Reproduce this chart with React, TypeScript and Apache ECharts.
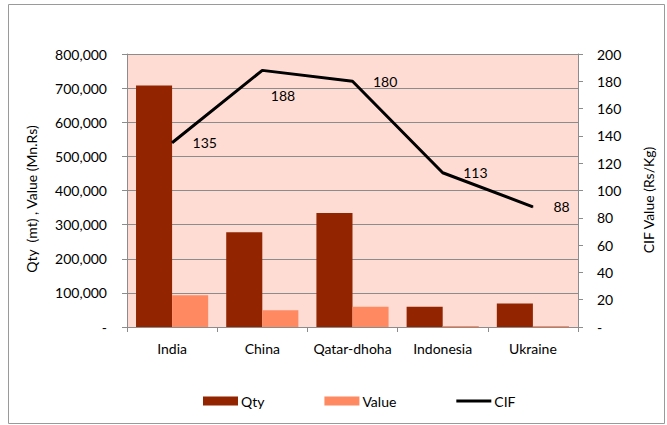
import React, { useEffect, useRef } from "react";
import * as echarts from "echarts";

const categories = ["India", "China", "Qatar-dhoha", "Indonesia", "Ukraine"];
const qty = [708000, 278000, 334000, 59000, 69000];
const value = [93000, 49000, 59000, 3000, 3000];
const cif = [135, 188, 180, 113, 88];
const leftTicks = { min: 0, max: 800000, interval: 100000 };
const rightTicks = { min: 0, max: 200, interval: 20 };

const FONT = "Lato";

export default function App() {
  const ref = useRef<HTMLDivElement>(null);
  useEffect(() => {
    if (!ref.current) return;
    const chart = echarts.init(ref.current, null, { renderer: "svg" });
    const fmt = (v: number) => (v === 0 ? "-" : v.toLocaleString("en-US"));
    chart.setOption({
      animation: false,
      backgroundColor: "#ffffff",
      textStyle: { fontFamily: FONT },
      grid: {
        left: 127,
        right: 89,
        top: 54,
        bottom: 98,
        show: true,
        backgroundColor: "#FFDCD3",
        borderWidth: 0,
      },
      legend: {
        left: 198,
        top: 389,
        itemWidth: 35,
        itemHeight: 9,
        itemGap: 60,
        textStyle: { fontFamily: FONT, fontSize: 14, color: "#000", padding: [0, 0, 0, -2] },
        data: [
          { name: "Qty", icon: "rect" },
          { name: "Value", icon: "rect" },
          { name: "CIF", icon: "path://M0,3H35V6H0Z" },
        ],
      },
      xAxis: {
        type: "category",
        data: categories,
        axisLine: { lineStyle: { color: "#8c8c8c", width: 1 } },
        axisTick: { show: true, length: 5, lineStyle: { color: "#8c8c8c" } },
        axisLabel: { fontFamily: FONT, fontSize: 14, color: "#000", margin: 14, interval: 0 },
      },
      yAxis: [
        {
          type: "value",
          ...leftTicks,
          axisLine: { show: true, lineStyle: { color: "#8c8c8c" } },
          axisTick: { show: true, length: 5, lineStyle: { color: "#8c8c8c" } },
          splitLine: { show: true, lineStyle: { color: "#8c8c8c", width: 1 } },
          axisLabel: { fontFamily: FONT, fontSize: 14, color: "#000", margin: 20, formatter: fmt },
        },
        {
          type: "value",
          ...rightTicks,
          position: "right",
          axisLine: { show: true, lineStyle: { color: "#8c8c8c" } },
          axisTick: { show: true, length: 5, lineStyle: { color: "#8c8c8c" } },
          splitLine: { show: false },
          axisLabel: { fontFamily: FONT, fontSize: 14, color: "#000", margin: 19, formatter: fmt },
        },
      ],
      series: [
        {
          name: "Qty",
          type: "bar",
          data: qty,
          barCategoryGap: "20%",
          barGap: "0%",
          itemStyle: { color: "#922400" },
        },
        {
          name: "Value",
          type: "bar",
          data: value,
          barCategoryGap: "20%",
          barGap: "0%",
          itemStyle: { color: "#FF8A62" },
        },
        {
          name: "CIF",
          type: "line",
          yAxisIndex: 1,
          data: cif.map((v, i) =>
            i === 1
              ? { value: v, label: { position: "right", distance: 0, offset: [8, 25] } }
              : v
          ),
          symbol: "circle",
          symbolSize: 1,
          showSymbol: true,
          lineStyle: { color: "#000", width: 3 },
          itemStyle: { color: "#000" },
          label: {
            show: true,
            position: "right",
            distance: 20,
            fontFamily: FONT,
            fontSize: 14,
            color: "#000",
          },
        },
      ],
      graphic: [
        {
          type: "rect",
          shape: { x: 8.5, y: 4.5, width: 656, height: 419 },
          style: { fill: "none", stroke: "#9a9a9a", lineWidth: 1 },
          silent: true,
        },
        {
          type: "text",
          x: 31,
          y: 199,
          rotation: Math.PI / 2,
          style: {
            text: "Qty  (mt) , Value (Mn.Rs)",
            fontFamily: FONT,
            fontSize: 14,
            fill: "#000",
            align: "center",
            verticalAlign: "middle",
          },
        },
        {
          type: "text",
          x: 648,
          y: 200,
          rotation: Math.PI / 2,
          style: {
            text: "CIF Value (Rs/Kg)",
            fontFamily: FONT,
            fontSize: 14,
            fill: "#000",
            align: "center",
            verticalAlign: "middle",
          },
        },
      ],
    });
    return () => chart.dispose();
  }, []);
  return (
    <div
      ref={ref}
      style={{ position: "absolute", left: 0, top: 0, width: 667, height: 425 }}
    />
  );
}
